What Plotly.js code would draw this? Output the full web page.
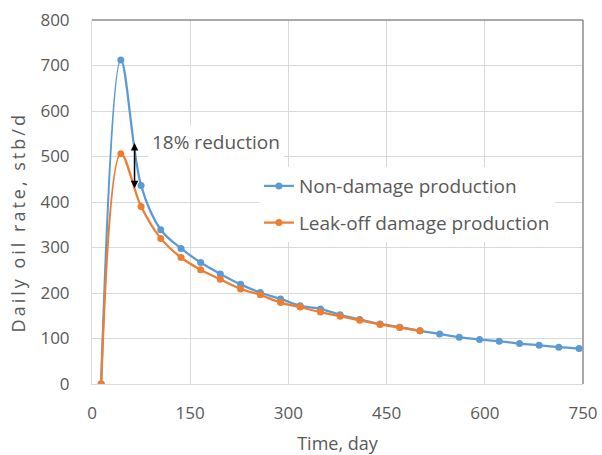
<!DOCTYPE html>
<html>
<head>
<meta charset="utf-8">
<script src="https://cdn.plot.ly/plotly-3.0.1.min.js"></script>
<style>
  html, body { margin: 0; padding: 0; background: #fff; }
  #chart { width: 602px; height: 455px; }
  .annotation[data-index="0"] text { letter-spacing: 3px; }
</style>
</head>
<body>
<div id="chart"></div>
<script>
// ---- Data ----
const days = [14, 44, 75, 105, 136, 166, 196, 227, 257, 288, 318, 349, 379, 409, 440, 470, 501, 531, 561, 592, 622, 653, 683, 713, 744];
const nonDamageRate = [0, 712, 436, 339, 298, 267, 242, 219, 201, 187, 172, 165, 152, 142, 132, 125, 117, 110, 103, 98, 94, 89, 85, 81, 78];
const leakoffDays = [14, 44, 75, 105, 136, 166, 196, 227, 257, 288, 318, 349, 379, 409, 440, 470, 501];
const leakoffRate = [0, 506, 390, 320, 278, 251, 230, 209, 196, 179, 169, 158, 149, 140, 131, 124, 117];
const seriesNames = ["Non-damage production", "Leak-off damage production"];
const xTicks = [0, 150, 300, 450, 600, 750];
const yTicks = [0, 100, 200, 300, 400, 500, 600, 700, 800];
const xTitle = "Time, day";
const yTitle = "Daily oil rate, stb/d";
const annotationText = "18% reduction";
const arrowDay = 65, arrowTop = 533, arrowBottom = 430;

const blue = "#5B9BD5", orange = "#ED7D31";
const font = "Open Sans, Arial, sans-serif";
const txt = "#595959";

const traces = [
  {
    x: days, y: nonDamageRate, name: seriesNames[0], type: "scatter", mode: "lines+markers",
    line: { color: blue, width: 2.25, shape: "spline", smoothing: 1 },
    marker: { color: blue, size: 7 }, legendgroup: "a"
  },
  {
    x: leakoffDays, y: leakoffRate, name: seriesNames[1], type: "scatter", mode: "lines+markers",
    line: { color: orange, width: 2.25, shape: "spline", smoothing: 1 },
    marker: { color: orange, size: 7 }, legendgroup: "b"
  }
];

const layout = {
  width: 602, height: 455,
  margin: { l: 92, r: 19, t: 20, b: 71, pad: 0 },
  paper_bgcolor: "#fff", plot_bgcolor: "#fff",
  font: { family: font, color: txt, size: 17 },
  showlegend: true,
  legend: {
    x: 0.34, y: 0.596, xanchor: "left", yanchor: "top",
    bgcolor: "#fff", borderwidth: 0,
    font: { family: font, size: 19, color: txt },
    traceorder: "grouped", tracegroupgap: 9
  },
  xaxis: {
    range: [0, 750], tickvals: xTicks, ticktext: xTicks.map(String),
    showgrid: true, gridcolor: "#d9d9d9", gridwidth: 1,
    zeroline: false, showline: true, linecolor: "#d9d9d9", linewidth: 1,
    ticks: "", ticklabelstandoff: 14,
    tickfont: { family: font, size: 17, color: txt },
    title: { text: xTitle, font: { family: font, size: 18, color: txt }, standoff: 16 },
    fixedrange: true
  },
  yaxis: {
    range: [0, 800], tickvals: yTicks, ticktext: yTicks.map(String),
    showgrid: true, gridcolor: "#d9d9d9", gridwidth: 1,
    zeroline: false, showline: true, linecolor: "#d9d9d9", linewidth: 1,
    ticks: "", ticklabelstandoff: 18,
    tickfont: { family: font, size: 17, color: txt },
    fixedrange: true
  },
  shapes: [
    { type: "line", xref: "paper", yref: "paper", x0: 0, x1: 1, y0: 1, y1: 1, line: { color: "#8c8c8c", width: 1.5 } },
    { type: "line", xref: "paper", yref: "paper", x0: 1, x1: 1, y0: 0, y1: 1, line: { color: "#8c8c8c", width: 1.5 } }
  ],
  annotations: [
    {
      x: -0.151, y: 0.445, xref: "paper", yref: "paper", xanchor: "center", yanchor: "middle",
      text: yTitle, textangle: -90, showarrow: false,
      font: { family: font, size: 18, color: txt }
    },
    {
      x: 86, y: 532, xref: "x", yref: "y", xanchor: "left", yanchor: "middle",
      text: annotationText, showarrow: false, bgcolor: "#fff", borderpad: 3,
      font: { family: font, size: 19, color: txt }
    },
    {
      x: arrowDay, y: arrowBottom, ax: arrowDay, ay: arrowTop, xref: "x", yref: "y", axref: "x", ayref: "y",
      text: "", showarrow: true, arrowhead: 2, startarrowhead: 2, arrowside: "end+start",
      arrowsize: 1, startarrowsize: 1, arrowwidth: 1.5, arrowcolor: "#000"
    }
  ]
};

Plotly.newPlot("chart", traces, layout, { displayModeBar: false, staticPlot: true });
</script>
</body>
</html>
